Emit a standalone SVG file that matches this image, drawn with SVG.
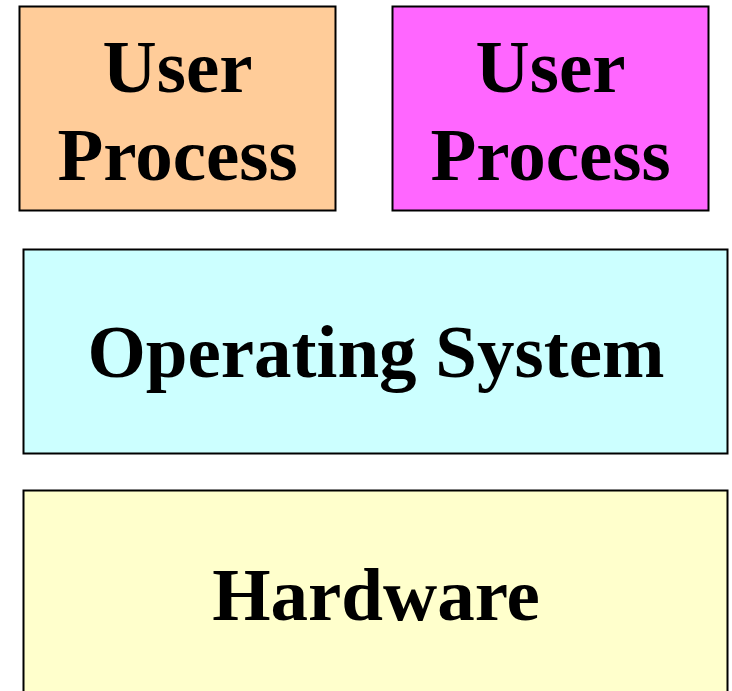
<svg xmlns="http://www.w3.org/2000/svg" width="732" height="691" viewBox="0 0 732 691">
<style>
.box{stroke:#000;stroke-width:2}
.t{font-family:"Liberation Serif","Times New Roman",serif;font-weight:bold;font-size:75px;fill:#000;text-anchor:middle}
</style>
<rect width="732" height="691" fill="#fff"/>
<g id="user-process-1">
<rect class="box" x="19.5" y="6.5" width="316" height="204" fill="#FFCC99"/>
<text class="t" x="177.5" y="92">User</text>
<text class="t" x="177.5" y="180">Process</text>
</g>
<g id="user-process-2">
<rect class="box" x="392.5" y="6.5" width="316" height="204" fill="#FF66FF"/>
<text class="t" x="550.5" y="92">User</text>
<text class="t" x="550.5" y="180">Process</text>
</g>
<g id="operating-system">
<rect class="box" x="23.5" y="249.5" width="704" height="204" fill="#CCFFFF"/>
<text class="t" x="376" y="377">Operating System</text>
</g>
<g id="hardware">
<rect class="box" x="23.5" y="490.5" width="704" height="210" fill="#FFFFCC"/>
<text class="t" x="376" y="620">Hardware</text>
</g>
<g id="connectors"/>
</svg>
